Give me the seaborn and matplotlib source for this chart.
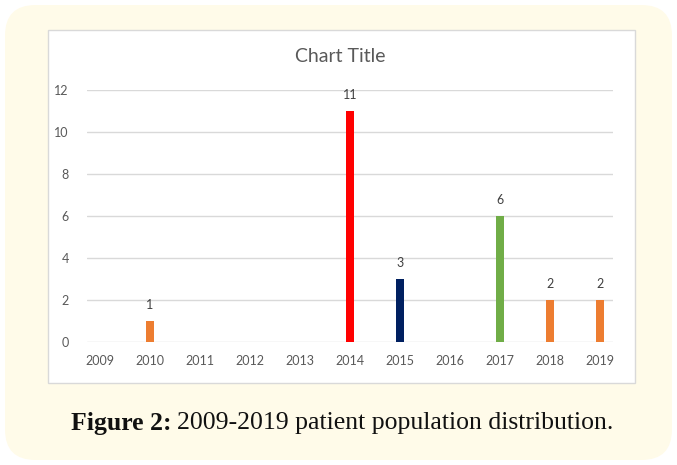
import matplotlib
matplotlib.use("Agg")
import matplotlib.pyplot as plt
from matplotlib.patches import FancyBboxPatch, Rectangle
import pandas as pd
import seaborn as sns

# Chart data
years = ["2009", "2010", "2011", "2012", "2013", "2014",
         "2015", "2016", "2017", "2018", "2019"]
patients = [0, 1, 0, 0, 0, 11, 3, 0, 6, 2, 2]
bar_colors = ["#ED7D31", "#ED7D31", "#ED7D31", "#ED7D31", "#ED7D31", "#FF0000",
              "#002060", "#ED7D31", "#70AD47", "#ED7D31", "#ED7D31"]
y_ticks = [0, 2, 4, 6, 8, 10, 12]

data = pd.DataFrame({"Year": years, "Patients": patients})

sns.set_theme(style="white")
plt.rcParams["font.family"] = ["Lato", "DejaVu Sans"]

W, H = 677, 465
fig = plt.figure(figsize=(W / 100, H / 100), dpi=100)
fig.patch.set_facecolor("white")

# cream rounded background
fig.patches.append(FancyBboxPatch((5 / W, 5 / H), 667 / W, 455 / H,
                                  boxstyle="round,pad=0,rounding_size=0.045",
                                  transform=fig.transFigure,
                                  facecolor="#FFFBE9", edgecolor="none",
                                  mutation_aspect=W / H, zorder=0))
# white chart box
fig.patches.append(Rectangle((48 / W, (H - 383) / H), 587 / W, 353 / H,
                             transform=fig.transFigure, facecolor="white",
                             edgecolor="#D9D9D9", linewidth=1, zorder=1))

ax = fig.add_axes([87 / W, (H - 342) / H, 526 / W, 252 / H])
ax.set_zorder(2)
ax.patch.set_alpha(0)

sns.barplot(data=data, x="Year", y="Patients", hue="Year",
            palette=bar_colors, width=0.15, legend=False, ax=ax,
            saturation=1, linewidth=0, zorder=3)

ax.set_xlim(-0.26, 10.26)
ax.set_ylim(0, 12)
ax.set_yticks(y_ticks)
ax.yaxis.grid(True, color="#D9D9D9", linewidth=1, zorder=0)
ax.set_axisbelow(True)
for s in ax.spines.values():
    s.set_visible(False)
ax.tick_params(axis="both", length=0, labelsize=9, colors="#595959")
ax.tick_params(axis="y", pad=13)
ax.tick_params(axis="x", pad=9)
ax.set_xlabel("")
ax.set_ylabel("")

# data labels
for i, v in enumerate(patients):
    if v > 0:
        ax.annotate(str(v), (i, v), xytext=(0, 7), textcoords="offset points",
                    ha="center", va="bottom", fontsize=9, color="#404040")

fig.text(340 / W, 1 - 57 / H, "Chart Title", ha="center", va="center",
         fontsize=14, color="#595959")

# caption: bold part + regular part, centred together
cap_y = 1 - 423 / H
bold = fig.text(0, cap_y, "Figure 2:", ha="left", va="center",
                fontsize=18.5, fontweight="bold", family="Liberation Serif",
                color="#111111")
rest = fig.text(0, cap_y, "2009-2019 patient population distribution.",
                ha="left", va="center", fontsize=18.5, family="Liberation Serif",
                color="#111111")
fig.canvas.draw()
wb = bold.get_window_extent().width
wr = rest.get_window_extent().width
gap = 5
x0 = 342 - (wb + gap + wr) / 2
bold.set_x(x0 / W)
rest.set_x((x0 + wb + gap) / W)

fig.savefig("out.png", dpi=100)
